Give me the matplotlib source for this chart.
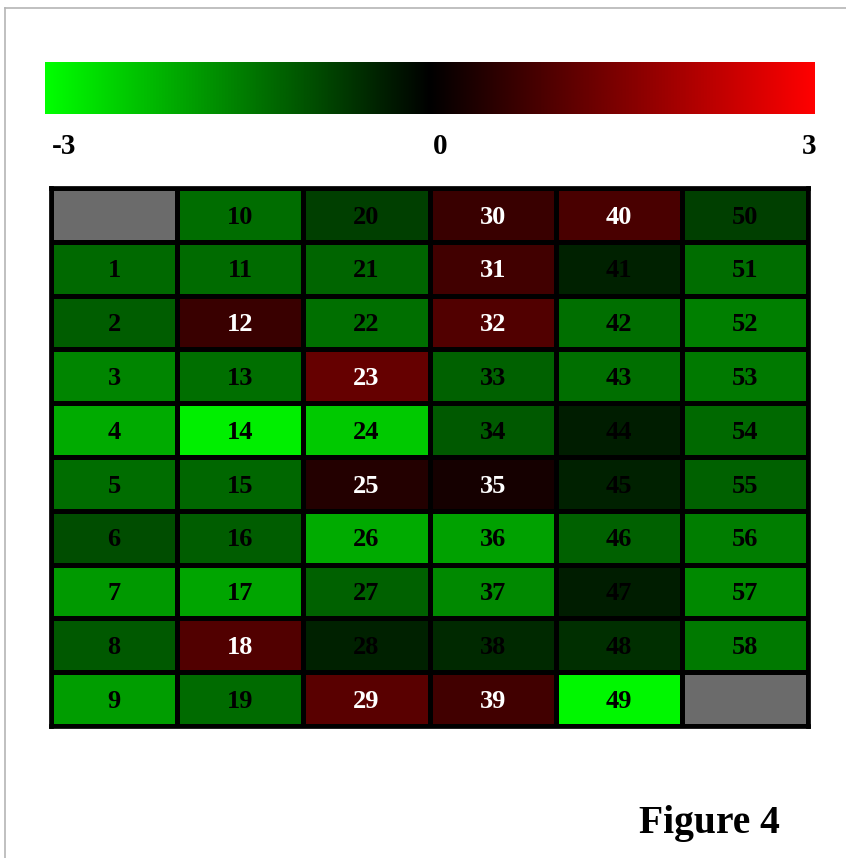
import numpy as np
import matplotlib.pyplot as plt
from matplotlib.colors import LinearSegmentedColormap
from matplotlib.lines import Line2D

# Cell values, numbered 0..59 (column-major, 10 per column); 0 and 59 are empty
values = [
    np.nan, -1.22, -1.08, -1.55, -2.00, -1.27, -0.90, -1.80, -1.04, -1.85,
    -1.27, -1.25, 0.66, -1.30, -2.80, -1.20, -1.08, -1.93, 0.94, -1.25,
    -0.75, -1.18, -1.30, 1.18, -2.35, 0.42, -2.00, -1.13, -0.38, 1.04,
    0.66, 0.75, 0.94, -1.13, -1.04, 0.24, -1.88, -1.60, -0.47, 0.75,
    0.85, -0.38, -1.30, -1.30, -0.33, -0.38, -1.13, -0.33, -0.56, -2.90,
    -0.75, -1.27, -1.50, -1.41, -1.22, -1.13, -1.46, -1.60, -1.41, np.nan,
]
n_rows = 10
n_cols = 6
cbar_ticks = [-3, 0, 3]

grid = np.array(values).reshape(n_cols, n_rows).T

cmap = LinearSegmentedColormap.from_list("gkr", ["#00ff00", "#000000", "#ff0000"])
cmap.set_bad("#6b6b6b")

serif = ["Liberation Serif", "DejaVu Serif"]

fig = plt.figure(figsize=(8.46, 8.58), dpi=100)
fig.patch.set_facecolor("white")

# light frame on left and top
fig.add_artist(Line2D([5 / 846, 5 / 846], [0, 1 - 8 / 858], color="#b5b5b5", lw=1.2,
                      transform=fig.transFigure))
fig.add_artist(Line2D([5 / 846, 1], [1 - 8 / 858, 1 - 8 / 858], color="#b5b5b5", lw=1.2,
                      transform=fig.transFigure))

# colour scale bar
cax = fig.add_axes([45 / 846, 1 - 114 / 858, 770 / 846, 52 / 858])
cax.imshow(np.linspace(-3, 3, 512)[None, :], cmap=cmap, vmin=-3, vmax=3,
           aspect="auto", extent=[-3, 3, 0, 1])
cax.set_axis_off()
tick_kw = dict(va="center", fontsize=21, fontweight="bold", family=serif)
fig.text(52 / 846, 1 - 147 / 858, str(cbar_ticks[0]), ha="left", **tick_kw)
fig.text(440 / 846, 1 - 147 / 858, str(cbar_ticks[1]), ha="center", **tick_kw)
fig.text(816 / 846, 1 - 147 / 858, str(cbar_ticks[2]), ha="right", **tick_kw)

# heat map grid
ax = fig.add_axes([51 / 846, 1 - 726 / 858, 757 / 846, 538 / 858])
ax.pcolormesh(np.ma.masked_invalid(grid), cmap=cmap, vmin=-3, vmax=3,
              edgecolors="black", linewidth=3.4)
ax.set_xlim(0, n_cols)
ax.set_ylim(n_rows, 0)
ax.set_xticks([])
ax.set_yticks([])
for s in ax.spines.values():
    s.set_linewidth(3.4)
    s.set_color("black")

for c in range(n_cols):
    for r in range(n_rows):
        v = grid[r, c]
        if np.isnan(v):
            continue
        num = c * n_rows + r
        ax.text(c + 0.5, r + 0.54, str(num), ha="center", va="center",
                fontsize=19, fontweight="bold", family=serif,
                color="white" if v > 0 else "black")

fig.text(780 / 846, 1 - 833 / 858, "Figure 4", ha="right", va="baseline",
         fontsize=28.5, fontweight="bold", family=serif)

fig.savefig("out.png", dpi=100)
